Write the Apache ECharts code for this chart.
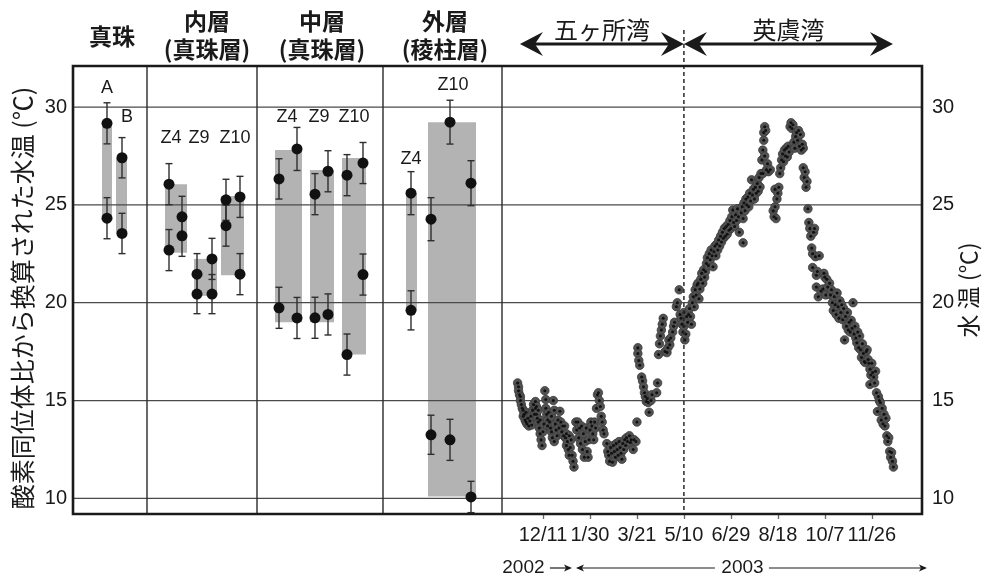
<!DOCTYPE html>
<html>
<head>
<meta charset="utf-8">
<script src="https://cdn.jsdelivr.net/npm/echarts@6/dist/echarts.min.js"></script>
<style>
html,body{margin:0;padding:0;background:#fff;}
#c{width:987px;height:577px;}
</style>
</head>
<body>
<div id="c"></div>
<script>
// ---------------- DATA ----------------
const yTicks = [10, 15, 20, 25, 30];
const xTickDates = ['2002-12-11','2003-01-30','2003-03-21','2003-05-10','2003-06-29','2003-08-18','2003-10-07','2003-11-26'];
const panelTitles = [['真珠'], ['内層', '(真珠層)'], ['中層', '(真珠層)'], ['外層', '(稜柱層)']];
const bayNames = ['五ヶ所湾', '英虞湾'];
const yearNames = ['2002', '2003'];
const specimenLabels = ['A', 'B', 'Z4', 'Z9', 'Z10', 'Z4', 'Z9', 'Z10', 'Z4', 'Z10'];

// oxygen-isotope temperatures (°C) of each analysed spot and their error (±°C)
const spotTemp = [
  29.17, 24.32,                       // 真珠 A
  27.41, 23.54,                       // 真珠 B
  26.06, 22.69, 24.39, 23.42,         // 内層 Z4
  21.46, 20.44, 22.24, 20.44,         // 内層 Z9
  25.26, 23.94, 25.41, 21.46,         // 内層 Z10
  26.33, 19.74, 27.86, 19.22,         // 中層 Z4
  25.55, 19.23, 26.72, 19.40,         // 中層 Z9
  26.52, 17.35, 27.14, 21.44,         // 中層 Z10
  25.60, 19.61,                       // 外層 Z4
  24.27, 13.25, 29.23, 12.99, 26.11, 10.07  // 外層 Z10
];
const spotErr = [
  1.05, 1.05,
  1.03, 1.03,
  1.05, 1.05, 1.05, 1.05,
  1.05, 1.0, 1.05, 1.0,
  1.05, 1.05, 1.05, 1.05,
  1.03, 1.05, 1.1, 1.05,
  1.05, 1.05, 1.05, 1.05,
  1.05, 1.05, 1.05, 1.05,
  1.1, 1.0,
  1.1, 1.0, 1.12, 1.05, 1.15, 0.8
];
// range (min, max °C) shaded for each specimen
const rangeLow  = [24.32, 23.54, 22.55, 20.35, 21.40, 19.00, 19.00, 17.35, 19.61, 10.10];
const rangeHigh = [29.17, 27.41, 26.06, 22.24, 25.45, 27.80, 26.78, 27.40, 25.60, 29.23];

// measured water temperature: [days after 2002-12-11, °C]
const waterTemp = [
[-27,15.9],[-26,15.7],[-26,15.5],[-25,15.3],[-24,15.2],[-24,15.0],[-23,14.8],[-22,14.6],[-21,14.5],[-21,14.2],[-20,14.3],[-19,14.0],[-18,14.4],[-18,13.9],[-17,13.8],[-16,14.1],[-15,13.7],[-14,13.95],[-13,14.2],[-12,13.75],[-11,14.5],[-10,14.8],[-9,14.3],
[-8,14.95],[-8,14.6],[-7,14.7],[-7,14.3],[-6,14.1],[-5,13.9],[-5,14.5],[-4,13.6],[-3,13.3],[-3,14.0],[-2,13.0],[-1,12.7],[0,13.4],[1,13.8],
[2,15.5],[3,15.05],[3,14.6],[4,14.3],[5,14.0],[5,13.7],[6,14.4],[7,13.9],[8,13.6],[9,13.4],[9,14.2],[10,13.1],[11,15.0],[12,14.5],[12,12.9],[13,13.8],[14,13.5],[15,13.2],[16,14.0],[17,13.6],[18,14.45],[19,13.9],[20,13.4],[21,13.7],
[22,13.2],[23,13.7],[24,13.1],[25,12.7],[25,13.3],[26,12.9],[27,12.5],[28,13.2],[28,12.2],[29,12.6],[30,13.0],[31,12.2],[32,11.9],[33,11.6],[35,13.9],[36,13.5],[37,13.9],[38,13.1],[39,13.6],[40,12.8],[41,13.7],[42,12.5],[43,13.3],[44,12.1],[45,12.9],[46,13.6],[47,12.4],
[48,12.1],[49,13.0],[50,13.5],[51,13.9],[52,13.7],[53,13.3],[54,13.0],[55,13.9],[56,13.6],[57,14.6],[58,15.3],[59,15.4],[60,15.0],[61,14.7],[62,14.2],[63,13.9],[64,13.5],[65,13.3],
[68,12.8],[69,12.4],[70,12.2],[71,11.9],[72,12.6],[73,12.3],[74,11.85],[75,12.7],[76,12.4],[77,12.1],[78,12.8],[79,12.5],[80,12.2],[81,12.9],[82,12.6],[83,12.3],[84,12.0],[85,12.8],[86,12.5],[87,13.0],[88,12.7],[89,13.1],[90,12.9],[92,13.2],[93,12.85],[94,13.0],[96,12.5],[97,13.0],[99,12.9],[100,13.9],
[101,17.7],[101,17.4],[102,17.05],[103,16.8],[105,16.2],[106,16.0],[107,15.7],[108,15.4],[109,15.2],[110,14.95],[111,15.1],[112,14.9],[113,14.4],[115,15.0],[116,15.3],
[121,15.4],[122,15.9],[123,17.35],[124,17.9],[125,18.3],[126,18.6],[127,18.9],[128,19.2],[130,17.5],[132,17.45],[133,17.7],[134,18.1],[135,17.85],[136,18.2],[138,18.5],[139,18.8],[140,19.0],[142,19.8],[143,20.0],[145,20.66],[146,19.4],
[147,19.2],[148,18.9],[149,18.5],[150,18.8],[150,19.5],[151,18.1],[152,18.4],[153,19.3],[154,19.0],[155,19.4],[156,19.7],[157,19.3],[158,18.9],[159,20.0],[160,20.3],[161,19.8],[162,20.66],[163,20.4],[164,20.9],[165,21.0],[166,20.2],[167,20.7],[168,21.2],[169,21.5],[170,21.0],[171,21.68],[172,21.3],
[173,21.6],[174,22.0],[175,22.3],[176,21.9],[177,22.5],[178,22.2],[179,22.7],[180,22.4],[181,21.84],[182,22.6],[183,22.9],[184,22.4],[185,23.0],[186,22.7],[187,23.2],[188,22.9],[189,23.4],[190,23.1],[191,23.6],[192,23.3],[193,23.8],[194,23.4],[195,23.9],[196,23.5],[197,24.0],[198,23.7],[199,24.2],[200,23.8],
[201,24.4],[202,24.74],[203,24.1],[204,23.9],[205,24.5],[206,24.2],[207,24.8],[208,24.4],[209,23.6],[211,24.6],[212,24.9],[213,23.06],[213,24.3],[214,25.1],[215,24.7],[216,25.3],[217,25.0],[218,25.4],[219,24.9],[220,25.6],[221,25.2],[222,26.28],[223,25.5],[224,25.8],[225,25.3],[226,25.9],[227,25.6],[228,26.1],[229,25.7],[230,26.4],[231,25.92],[232,26.6],
[233,27.3],[234,27.8],[234,26.6],[235,28.3],[235,28.7],[236,29.0],[236,27.5],[237,28.8],[238,26.8],[239,27.1],[240,26.7],[242,26.8],
[245,24.7],[246,24.4],[247,24.9],[247,25.8],[248,24.3],[249,25.3],[250,25.6],[251,25.9],[252,26.6],[253,26.9],[254,27.3],[255,27.6],[256,27.2],[257,27.8],[258,27.5],[259,27.9],[260,27.45],[261,28.0],[262,27.7],[263,29.0],[264,29.2],[265,28.9],[266,29.1],[267,28.2],[268,27.9],[269,28.5],[270,28.7],[271,28.3],[272,28.8],[273,28.0],[274,28.6],[275,27.8],[276,28.1],[277,27.9],
[277,26.9],[278,26.4],[279,26.7],[280,25.9],[281,26.2],[282,24.8],[283,24.1],[284,23.8],[285,23.4],[286,22.8],[287,22.5],[287,21.8],[288,23.6],[289,23.8],[290,22.35],[291,21.4],[291,20.8],[292,21.6],[293,20.3],[294,22.4],[296,20.6],[298,20.7],[299,21.5],[300,21.3],[301,20.4],[302,21.2],[303,20.8],[305,21.0],[306,20.4],[307,20.66],[308,20.0],[309,19.6],[310,20.3],[311,19.9],[312,19.4],[313,20.5],[314,19.8],[315,19.2],[316,20.1],[317,19.5],[318,19.9],[319,19.13],[320,19.7],[321,18.1],[322,19.3],[323,18.8],[324,19.5],[325,18.6],[326,19.0],[327,18.5],[328,19.1],[329,18.7],[330,20.0],
[331,18.4],[332,18.8],[333,18.2],[334,17.96],[335,18.5],[336,17.7],[337,18.3],[338,17.6],[339,17.2],[340,17.9],[341,17.4],[342,17.0],[343,16.94],[344,17.5],[345,17.6],[346,17.1],[347,16.9],[348,16.6],[348,15.82],[349,16.3],[350,16.9],[351,16.43],[352,16.2],[353,15.9],[354,16.5],[355,15.4],[356,14.44],[357,15.2],[358,15.0],[359,14.9],[360,14.0],[361,14.6],[362,13.8],[363,14.3],[364,13.7],[365,14.1],[366,13.2],[367,12.9],[368,13.1],[369,12.4],[370,12.1],[371,12.35],[372,11.9],[373,11.6]
];

// ---------------- LAYOUT (positions in the left-panel slot units / days) ----------------
const SLOT_MAX = 429;
const spotSlot = [34,34, 49,49, 96,96,109,109, 124,124,139,139, 153,153,167,167,
                  206,206,224,224, 242,242,255,255, 274,274,290,290, 338,338, 358,358,377,377,398,398];
const rangeSlot = [[29,39],[43,54],[92,114],[121,144],[148,171],[202,229],[237,261],[269,293],[333,344],[355,403]];
const labelSlot = [[34,30.97],[54,29.49],[98,28.42],[126,28.42],[162,28.42],[214,29.49],[246,29.49],[281,29.49],[338,27.35],[380,31.12]];
const panelSep = [74, 184, 310, 429];
const panelTitleSlot = [39, 134, 249, 372];
const Y_MIN = 9.2, Y_MAX = 32.1;
const DAY_MIN = -43.6, DAY_MAX = 403.4;
const baySpan = [[-24.5, 150], [150, 372.5]];
const boundaryDay = 150;

const LATIN = "'Liberation Sans', Arial, Helvetica, sans-serif";
const CJK = "'Noto Sans CJK JP', 'Noto Sans CJK SC', sans-serif";
const INK = '#1a1a1a';

const BASE = Date.UTC(2002, 11, 11);
const toDay = s => { const p = s.split('-').map(Number); return Math.round((Date.UTC(p[0], p[1]-1, p[2]) - BASE) / 864e5); };
const tickDays = xTickDates.map(toDay);
const dayLabel = d => { const dt = new Date(BASE + Math.round(d) * 864e5); return (dt.getUTCMonth()+1) + '/' + dt.getUTCDate(); };

const chart = echarts.init(document.getElementById('c'));

function gridLines(params, api) {
  const cs = params.coordSys;
  const y = api.coord([api.value(0), api.value(1)])[1];
  return {type:'line', shape:{x1:cs.x, y1:y, x2:cs.x+cs.width, y2:y}, style:{stroke:'#4a4a4a', lineWidth:1.3}};
}

const option = {
  animation: false,
  backgroundColor: '#fff',
  grid: [
    {left:73, top:66, width:429, height:448, outerBoundsMode:'none'},
    {left:502, top:66, width:420, height:448, outerBoundsMode:'none'}
  ],
  xAxis: [
    {gridIndex:0, type:'value', min:0, max:SLOT_MAX, show:false},
    {gridIndex:1, type:'value', min:DAY_MIN, max:DAY_MAX,
     axisLine:{show:false},
     axisTick:{show:true, customValues:tickDays, length:5, lineStyle:{color:'#666', width:1.3}},
     axisLabel:{customValues:tickDays, formatter:v => dayLabel(v), fontSize:20, color:INK, margin:11, fontFamily:LATIN},
     splitLine:{show:false}}
  ],
  yAxis: [
    {gridIndex:0, type:'value', min:Y_MIN, max:Y_MAX, position:'left',
     axisLine:{show:false}, axisTick:{show:false}, splitLine:{show:false},
     axisLabel:{customValues:yTicks, fontSize:20, margin:6, color:INK, fontFamily:LATIN}},
    {gridIndex:1, type:'value', min:Y_MIN, max:Y_MAX, position:'right',
     axisLine:{show:false}, axisTick:{show:false}, splitLine:{show:false},
     axisLabel:{customValues:yTicks, fontSize:20, margin:10, color:INK, fontFamily:LATIN}}
  ],
  series: [
    // shaded ranges
    {type:'custom', xAxisIndex:0, yAxisIndex:0, z:2,
     data: rangeSlot.map((s, i) => [s[0], s[1], rangeLow[i], rangeHigh[i]]),
     encode:{x:[0,1], y:[2,3]},
     renderItem(params, api) {
       const p1 = api.coord([api.value(0), api.value(3)]);
       const p2 = api.coord([api.value(1), api.value(2)]);
       return {type:'rect', shape:{x:p1[0], y:p1[1], width:p2[0]-p1[0], height:p2[1]-p1[1]}, style:{fill:'#b3b3b3'}};
     }},
    // horizontal grid lines (both panels)
    {type:'custom', xAxisIndex:0, yAxisIndex:0, z:3, data: yTicks.map(v => [0, v]), encode:{x:0, y:1}, renderItem: gridLines},
    {type:'custom', xAxisIndex:1, yAxisIndex:1, z:3, data: yTicks.map(v => [0, v]), encode:{x:0, y:1}, renderItem: gridLines},
    // panel separators
    {type:'custom', xAxisIndex:0, yAxisIndex:0, z:3, data: panelSep.map(s => [s, 20]), encode:{x:0, y:1},
     renderItem(params, api) {
       const cs = params.coordSys;
       const x = api.coord([api.value(0), api.value(1)])[0];
       return {type:'line', shape:{x1:x, y1:cs.y, x2:x, y2:cs.y+cs.height}, style:{stroke:'#2a2a2a', lineWidth:1.4}};
     }},
    // error bars
    {type:'custom', xAxisIndex:0, yAxisIndex:0, z:4,
     data: spotTemp.map((v, i) => [spotSlot[i], v, spotErr[i]]), encode:{x:0, y:1},
     renderItem(params, api) {
       const x = api.value(0), v = api.value(1), e = api.value(2);
       const t = api.coord([x, v+e]), b = api.coord([x, v-e]);
       const w = 3.5;
       const st = () => ({stroke:'#2e2e2e', lineWidth:1.4});
       return {type:'group', children:[
         {type:'line', shape:{x1:t[0], y1:t[1], x2:b[0], y2:b[1]}, style:st()},
         {type:'line', shape:{x1:t[0]-w, y1:t[1], x2:t[0]+w, y2:t[1]}, style:st()},
         {type:'line', shape:{x1:b[0]-w, y1:b[1], x2:b[0]+w, y2:b[1]}, style:st()}
       ]};
     }},
    // spots
    {type:'scatter', xAxisIndex:0, yAxisIndex:0, z:5, symbol:'circle', symbolSize:11,
     itemStyle:{color:'#111', opacity:1}, data: spotTemp.map((v, i) => [spotSlot[i], v])},
    // specimen labels
    {type:'custom', xAxisIndex:0, yAxisIndex:0, z:6,
     data: labelSlot.map(p => [p[0], p[1]]), encode:{x:0, y:1},
     renderItem(params, api) {
       const p = api.coord([api.value(0), api.value(1)]);
       return {type:'text', x:p[0], y:p[1], style:{text:specimenLabels[params.dataIndex], fontSize:18, fontFamily:LATIN, fill:INK, align:'center', verticalAlign:'middle'}};
     }},
    // water temperature
    {type:'scatter', xAxisIndex:1, yAxisIndex:1, z:5, symbol:'circle', symbolSize:8.5,
     itemStyle:{color:'#525252', borderColor:'#3c3c3c', borderWidth:0.8, opacity:1}, data: waterTemp},
    {type:'scatter', xAxisIndex:1, yAxisIndex:1, z:6, symbol:'circle', symbolSize:3,
     itemStyle:{color:'#111', opacity:1}, data: waterTemp}
  ]
};
chart.setOption(option);

// ---------------- annotations ----------------
const px = (gi, x, y) => chart.convertToPixel({gridIndex: gi}, [x, y]);
const g = [];
const tl = px(0, 0, Y_MAX), br = px(1, DAY_MAX, Y_MIN);
g.push({type:'rect', z:50, shape:{x:tl[0], y:tl[1], width:br[0]-tl[0], height:br[1]-tl[1]}, style:{fill:null, stroke:INK, lineWidth:2.6}});

// dashed boundary line
const bx = px(1, boundaryDay, 20)[0];
g.push({type:'line', z:40, shape:{x1:bx, y1:30, x2:bx, y2:br[1]}, style:{stroke:'#2a2a2a', lineWidth:1.5, lineDash:[4,3]}});

// panel titles
panelTitles.forEach((t, i) => {
  const x = px(0, panelTitleSlot[i], 20)[0];
  if (t.length === 1) {
    g.push({type:'text', x:x, y:36, style:{text:t[0], font:'bold 23px ' + CJK, fill:INK, align:'center', verticalAlign:'middle'}});
  } else {
    g.push({type:'text', x:x, y:21, style:{text:t[0], font:'bold 23px ' + CJK, fill:INK, align:'center', verticalAlign:'middle'}});
    g.push({type:'text', x:x, y:49, style:{text:t[1], font:'bold 23px ' + CJK, fill:INK, align:'center', verticalAlign:'middle'}});
  }
});

// axis titles
g.push({type:'text', x:22, y:298, rotation:Math.PI/2, style:{text:'酸素同位体比から換算された水温 (℃)', font:'25px ' + CJK, fill:INK, align:'center', verticalAlign:'middle'}});
g.push({type:'text', x:968, y:290, rotation:Math.PI/2, style:{text:'水 温 (℃)', font:'23px ' + CJK, fill:INK, align:'center', verticalAlign:'middle'}});

// bay arrows
function head(tipX, y, dir, L, H, N, z) {
  return {type:'polygon', z:z||45, shape:{points:[[tipX, y], [tipX - dir*L, y - H], [tipX - dir*N, y], [tipX - dir*L, y + H]]}, style:{fill:INK}};
}
const AY = 44;
baySpan.forEach((s, i) => {
  const a = px(1, s[0], 20)[0], b = px(1, s[1], 20)[0];
  g.push({type:'line', z:44, shape:{x1:a+6, y1:AY, x2:b-6, y2:AY}, style:{stroke:INK, lineWidth:3}});
  g.push(head(a, AY, -1, 23, 12, 15));
  g.push(head(b, AY, 1, 23, 12, 15));
  g.push({type:'text', x:(a+b)/2, y:30, style:{text:bayNames[i], font:'24px ' + CJK, fill:INK, align:'center', verticalAlign:'middle'}});
});

// year arrows
const YY = 568;
const dx = d => px(1, d, 20)[0];
g.push({type:'text', x:dx(-20.8), y:YY, style:{text:yearNames[0], font:'19px ' + LATIN, fill:INK, align:'center', verticalAlign:'middle'}});
g.push({type:'line', shape:{x1:dx(7.4), y1:YY, x2:dx(30.9)-3, y2:YY}, style:{stroke:INK, lineWidth:1.2}});
g.push(head(dx(30.9), YY, 1, 8, 3.5, 6));
g.push(head(dx(35.1), YY, -1, 8, 3.5, 6));
g.push({type:'line', shape:{x1:dx(35.1)+3, y1:YY, x2:dx(183), y2:YY}, style:{stroke:INK, lineWidth:1.2}});
g.push({type:'text', x:dx(212.3), y:YY, style:{text:yearNames[1], font:'19px ' + LATIN, fill:INK, align:'center', verticalAlign:'middle'}});
g.push({type:'line', shape:{x1:dx(240.5), y1:YY, x2:dx(408.7)-3, y2:YY}, style:{stroke:INK, lineWidth:1.2}});
g.push(head(dx(408.7), YY, 1, 8, 3.5, 6));

chart.setOption({graphic: g});
</script>
</body>
</html>
